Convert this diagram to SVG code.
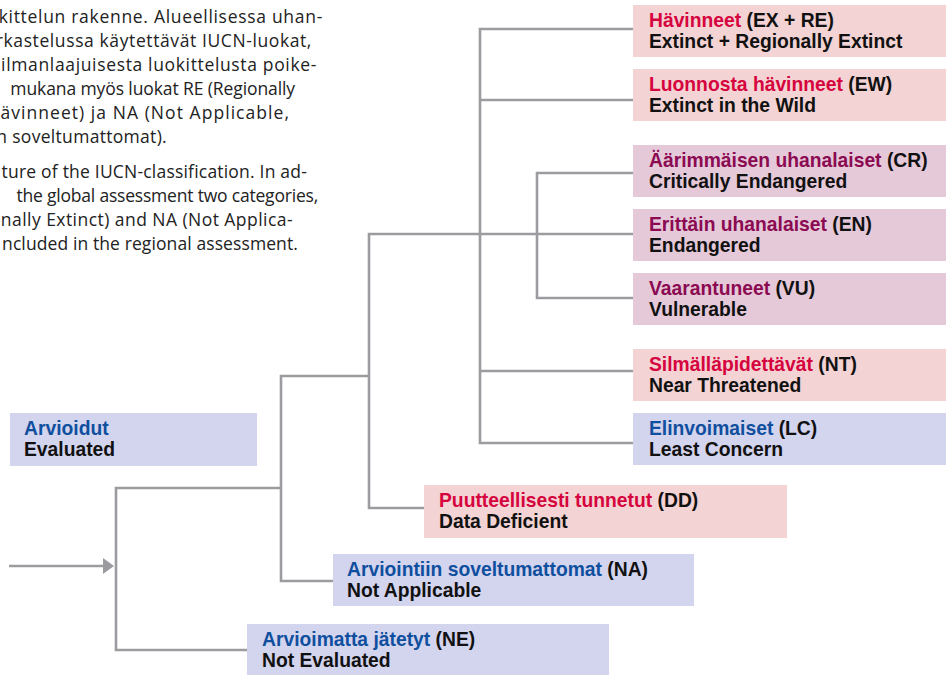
<svg xmlns="http://www.w3.org/2000/svg" width="946" height="675" viewBox="0 0 946 675">
<style>
.body{font-family:"Open Sans","Liberation Sans",Arial,sans-serif;font-size:17.5px;fill:#222;}
.lbl{font-family:"Liberation Sans",Arial,sans-serif;font-size:19.3px;font-weight:bold;fill:#111;}
.pink{fill:#f3d3d3;}
.purp{fill:#e5c9d9;}
.blue{fill:#d3d4ee;}
.tr{fill:#d6043e;}
.tp{fill:#8b0a52;}
.tb{fill:#0f4f9e;}
.conn{fill:none;stroke:#9c9ca0;stroke-width:2.6;stroke-linejoin:miter;}
</style>
<rect width="946" height="675" fill="#ffffff"/>
<g id="caption" class="body" text-anchor="end">
<text x="323" y="23" letter-spacing="0.7">kittelun rakenne. Alueellisessa uhan-</text>
<text x="312" y="47" letter-spacing="0.6">rkastelussa käytettävät IUCN-luokat,</text>
<text x="317" y="71" letter-spacing="0.65">ilmanlaajuisesta luokittelusta poike-</text>
<text x="295" y="95" letter-spacing="-0.1">mukana myös luokat RE (Regionally</text>
<text x="290" y="119" letter-spacing="1.05">ävinneet) ja NA (Not Applicable,</text>
<text x="167" y="143" letter-spacing="0.3">n soveltumattomat).</text>
<text x="307" y="178" letter-spacing="0.2">ture of the IUCN-classification. In ad-</text>
<text x="318" y="202" letter-spacing="-0.2">the global assessment two categories,</text>
<text x="293" y="226" letter-spacing="0.45">nally Extinct) and NA (Not Applica-</text>
<text x="298" y="250" letter-spacing="0.1">ncluded in the regional assessment.</text>
</g>
<g id="connectors">
<path class="conn" d="M633,29 H480 V443 H633"/>
<path class="conn" d="M480,100 H633"/>
<path class="conn" d="M480,371 H633"/>
<path class="conn" d="M633,173 H537 V298 H633"/>
<path class="conn" d="M424,508 H369 V234 H633"/>
<path class="conn" d="M369,376 H281 V581 H333"/>
<path class="conn" d="M281,488 H116 V650 H247"/>
<path class="conn" d="M9,566 H104"/>
<polygon points="103,558 114,566 103,574" fill="#9c9ca0"/>
</g>
<g id="node-ex">
<rect class="pink" x="633" y="5" width="313" height="52"/>
<text class="lbl" x="649" y="26.5"><tspan class="tr">Hävinneet</tspan> (EX + RE)</text>
<text class="lbl" x="649" y="48">Extinct + Regionally Extinct</text>
</g>
<g id="node-ew">
<rect class="pink" x="633" y="69" width="313" height="52"/>
<text class="lbl" x="649" y="90.5"><tspan class="tr">Luonnosta hävinneet</tspan> (EW)</text>
<text class="lbl" x="649" y="112">Extinct in the Wild</text>
</g>
<g id="node-cr">
<rect class="purp" x="633" y="145" width="313" height="52"/>
<text class="lbl" x="649" y="166.5"><tspan class="tp">Äärimmäisen uhanalaiset</tspan> (CR)</text>
<text class="lbl" x="649" y="188">Critically Endangered</text>
</g>
<g id="node-en">
<rect class="purp" x="633" y="209" width="313" height="52"/>
<text class="lbl" x="649" y="230.5"><tspan class="tp">Erittäin uhanalaiset</tspan> (EN)</text>
<text class="lbl" x="649" y="252">Endangered</text>
</g>
<g id="node-vu">
<rect class="purp" x="633" y="273" width="313" height="52"/>
<text class="lbl" x="649" y="294.5"><tspan class="tp">Vaarantuneet</tspan> (VU)</text>
<text class="lbl" x="649" y="316">Vulnerable</text>
</g>
<g id="node-nt">
<rect class="pink" x="633" y="349" width="313" height="52"/>
<text class="lbl" x="649" y="370.5"><tspan class="tr">Silmälläpidettävät</tspan> (NT)</text>
<text class="lbl" x="649" y="392">Near Threatened</text>
</g>
<g id="node-lc">
<rect class="blue" x="633" y="413" width="313" height="52"/>
<text class="lbl" x="649" y="434.5"><tspan class="tb">Elinvoimaiset</tspan> (LC)</text>
<text class="lbl" x="649" y="456">Least Concern</text>
</g>
<g id="node-evaluated">
<rect class="blue" x="10" y="413" width="247" height="53"/>
<text class="lbl" x="24" y="434.5"><tspan class="tb">Arvioidut</tspan></text>
<text class="lbl" x="24" y="456">Evaluated</text>
</g>
<g id="node-dd">
<rect class="pink" x="424" y="485" width="363" height="53"/>
<text class="lbl" x="439" y="506.5"><tspan class="tr">Puutteellisesti tunnetut</tspan> (DD)</text>
<text class="lbl" x="439" y="528">Data Deficient</text>
</g>
<g id="node-na">
<rect class="blue" x="333" y="554" width="361" height="52"/>
<text class="lbl" x="347" y="575.5"><tspan class="tb">Arviointiin soveltumattomat</tspan> (NA)</text>
<text class="lbl" x="347" y="597">Not Applicable</text>
</g>
<g id="node-ne">
<rect class="blue" x="247" y="624" width="362" height="51"/>
<text class="lbl" x="262" y="645.5"><tspan class="tb">Arvioimatta jätetyt</tspan> (NE)</text>
<text class="lbl" x="262" y="667">Not Evaluated</text>
</g>
</svg>
